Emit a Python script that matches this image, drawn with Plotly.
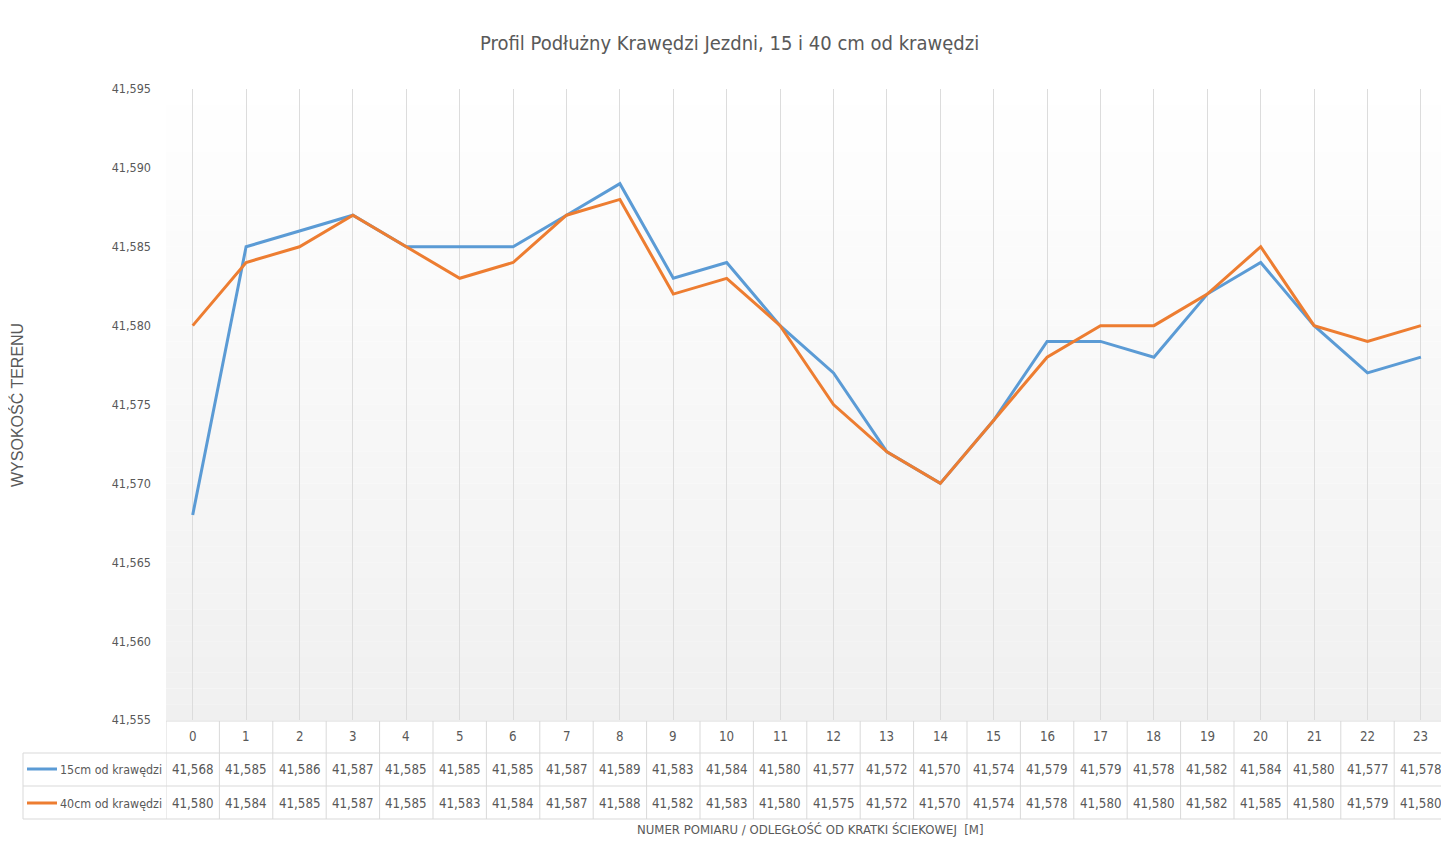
import plotly.graph_objects as go

categories = list(range(24))
series_15 = [41.568, 41.585, 41.586, 41.587, 41.585, 41.585, 41.585, 41.587, 41.589, 41.583,
             41.584, 41.580, 41.577, 41.572, 41.570, 41.574, 41.579, 41.579, 41.578, 41.582,
             41.584, 41.580, 41.577, 41.578]
series_40 = [41.580, 41.584, 41.585, 41.587, 41.585, 41.583, 41.584, 41.587, 41.588, 41.582,
             41.583, 41.580, 41.575, 41.572, 41.570, 41.574, 41.578, 41.580, 41.580, 41.582,
             41.585, 41.580, 41.579, 41.580]
series_names = ["15cm od krawędzi", "40cm od krawędzi"]
title_text = "Profil Podłużny Krawędzi Jezdni, 15 i 40 cm od krawędzi"
x_title = "NUMER POMIARU / ODLEGŁOŚĆ OD KRATKI ŚCIEKOWEJ  [M]"
y_title = "WYSOKOŚĆ TERENU"

# page body has an 8px default margin on every side; keep the figure inside the window
OFF = 8
SW, SH = 1449, 845
W, H = SW - 2 * OFF, SH - 2 * OFF
L, R, T, B = 166, SW - OFF, 89, 720   # plot area in screen pixels
STEP = 53.4                            # category spacing in pixels
BLUE, ORANGE = "#5B9BD5", "#ED7D31"
TXT = "#595959"
BORDER = "#d9d9d9"
NARROW = "DejaVu Sans Condensed, Liberation Sans Narrow, Arial Narrow, sans-serif"


def pxx(p):
    return (p - L) / (R - L)


def pxy(p):
    return (B - p) / (B - T)


fig = go.Figure()
series = [series_15, series_40]
colors = [BLUE, ORANGE]
for name, vals, col in zip(series_names, series, colors):
    fig.add_trace(go.Scatter(x=categories, y=vals, mode="lines", name=name,
                             line=dict(color=col, width=3), showlegend=False))

shapes = []
# gradient plot-area background
nb = 40
for i in range(nb):
    t = (i + 0.5) / nb
    g = round(255 - (255 - 240) * t)
    shapes.append(dict(type="rect", xref="paper", yref="paper",
                       x0=0, x1=1, y0=1 - (i + 1) / nb, y1=1 - i / nb,
                       fillcolor=f"rgb({g},{g},{g})", line=dict(width=0), layer="below"))

# data table horizontal lines
row_y = [721, 753, 786, 819]
for k, yy in enumerate(row_y):
    x0 = L if k == 0 else 23
    shapes.append(dict(type="line", xref="paper", yref="paper", x0=pxx(x0), x1=1,
                       y0=pxy(yy), y1=pxy(yy), line=dict(color=BORDER, width=1)))
# vertical lines
shapes.append(dict(type="line", xref="paper", yref="paper", x0=pxx(23), x1=pxx(23),
                   y0=pxy(753), y1=pxy(819), line=dict(color=BORDER, width=1)))
for i in range(len(categories)):
    xb = i - 0.5
    shapes.append(dict(type="line", xref="x", yref="paper", x0=xb, x1=xb,
                       y0=pxy(721), y1=pxy(819), line=dict(color=BORDER, width=1)))

# legend keys in table
row_centers = [769, 803]
for col, yc in zip(colors, row_centers):
    shapes.append(dict(type="line", xref="paper", yref="paper", x0=pxx(27), x1=pxx(57),
                       y0=pxy(yc), y1=pxy(yc), line=dict(color=col, width=3)))

TABLE_FS = 13.2
annotations = []
for name, yc in zip(series_names, row_centers):
    annotations.append(dict(text=name, xref="paper", yref="paper", x=pxx(164), y=pxy(yc),
                            xanchor="right", yanchor="middle", showarrow=False,
                            font=dict(family=NARROW, size=12.4, color=TXT)))
for vals, yc in zip(series, row_centers):
    for c, v in zip(categories, vals):
        annotations.append(dict(text=f"{v:.3f}".replace(".", ","), xref="x", yref="paper",
                                x=c, y=pxy(yc), xanchor="center", yanchor="middle",
                                showarrow=False,
                                font=dict(family=NARROW, size=TABLE_FS, color=TXT)))
for c in categories:
    annotations.append(dict(text=str(c), xref="x", yref="paper", x=c, y=pxy(737),
                            xanchor="center", yanchor="middle", showarrow=False,
                            font=dict(family=NARROW, size=TABLE_FS, color=TXT)))

annotations.append(dict(text=title_text, xref="paper", yref="paper", x=pxx(729), y=pxy(43),
                        xanchor="center", yanchor="middle", showarrow=False,
                        font=dict(family=NARROW, size=20, color=TXT)))
annotations.append(dict(text=x_title, xref="paper", yref="paper", x=pxx(810), y=pxy(829),
                        xanchor="center", yanchor="middle", showarrow=False,
                        font=dict(family=NARROW, size=13, color=TXT)))
annotations.append(dict(text=y_title, xref="paper", yref="paper", x=pxx(17), y=pxy(405),
                        xanchor="center", yanchor="middle", showarrow=False, textangle=-90,
                        font=dict(family="Liberation Sans, Arial, sans-serif", size=16, color=TXT)))

fig.update_layout(
    width=W, height=H,
    margin=dict(l=L - OFF, r=(SW - OFF) - R, t=T - OFF, b=(SH - OFF) - B, pad=0),
    paper_bgcolor="white", plot_bgcolor="white",
    separators=",.",
    shapes=shapes, annotations=annotations,
    showlegend=False,
)
fig.update_xaxes(range=[-0.5, (R - L) / STEP - 0.5], showgrid=True, gridcolor="#dcdcdc", gridwidth=1,
                 tickvals=categories, showticklabels=False, zeroline=False, showline=False, ticks="")
fig.update_yaxes(range=[41.555, 41.595], dtick=0.005, tick0=41.555, tickformat=".3f",
                 showgrid=False, zeroline=False, showline=False, ticks="",
                 ticklabelstandoff=14,
                 tickfont=dict(family=NARROW, size=12.5, color=TXT))

fig.write_html("out.html")
